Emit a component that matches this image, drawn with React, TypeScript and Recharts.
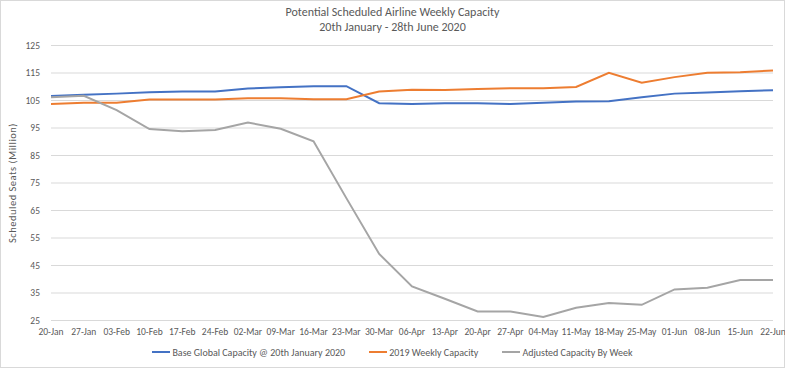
import { LineChart, Line, XAxis, YAxis, CartesianGrid, Legend } from 'recharts';

const weeks = [
  '20-Jan', '27-Jan', '03-Feb', '10-Feb', '17-Feb', '24-Feb', '02-Mar', '09-Mar',
  '16-Mar', '23-Mar', '30-Mar', '06-Apr', '13-Apr', '20-Apr', '27-Apr', '04-May',
  '11-May', '18-May', '25-May', '01-Jun', '08-Jun', '15-Jun', '22-Jun',
];

const baseCapacity = [
  106.6, 107.1, 107.5, 108.0, 108.3, 108.3, 109.4, 109.8, 110.2, 110.2, 104.0, 103.7,
  104.0, 104.0, 103.7, 104.2, 104.6, 104.7, 106.2, 107.5, 107.9, 108.4, 108.7,
];

const capacity2019 = [
  103.7, 104.2, 104.2, 105.4, 105.4, 105.4, 105.8, 105.8, 105.5, 105.5, 108.3, 108.9,
  108.8, 109.2, 109.5, 109.5, 109.9, 115.1, 111.5, 113.5, 115.1, 115.3, 115.9,
];

const adjustedCapacity = [
  106.2, 106.7, 101.5, 94.6, 93.8, 94.3, 97.0, 94.7, 90.2, 69.5, 49.2, 37.4,
  32.9, 28.3, 28.3, 26.3, 29.6, 31.4, 30.7, 36.3, 36.9, 39.7, 39.7,
];

const yTicks = [25, 35, 45, 55, 65, 75, 85, 95, 105, 115, 125];

const SERIES = [
  { key: 'base', name: 'Base Global Capacity @ 20th January 2020', color: '#4472C4' },
  { key: 'y2019', name: '2019 Weekly Capacity', color: '#ED7D31' },
  { key: 'adjusted', name: 'Adjusted Capacity By Week', color: '#A5A5A5' },
];

const FONT = 'Carlito, "Liberation Sans Narrow", "Liberation Sans", Arial, sans-serif';

const data = weeks.map((week, i) => ({
  week,
  base: baseCapacity[i],
  y2019: capacity2019[i],
  adjusted: adjustedCapacity[i],
}));

function LegendRow() {
  return (
    <div
      style={{
        height: 20,
        display: 'flex',
        justifyContent: 'center',
        alignItems: 'center',
        gap: 24,
        fontFamily: FONT,
        fontSize: 10,
        color: '#595959',
      }}
    >
      {SERIES.map((s) => (
        <div key={s.key} style={{ display: 'flex', alignItems: 'center' }}>
          <span style={{ display: 'inline-block', width: 18, height: 2, background: s.color, marginRight: 2 }} />
          <span>{s.name}</span>
        </div>
      ))}
    </div>
  );
}

export default function App() {
  return (
    <div
      style={{
        position: 'absolute',
        left: 0,
        top: 0,
        width: 785,
        height: 368,
        background: '#fff',
        outline: '1px solid #d9d9d9',
        outlineOffset: -1,
        fontFamily: FONT,
      }}
    >
      <div
        style={{
          position: 'absolute',
          top: 5,
          left: 0,
          width: 785,
          textAlign: 'center',
          color: '#595959',
          fontSize: 12,
          lineHeight: '15px',
        }}
      >
        <div>Potential Scheduled Airline Weekly Capacity</div>
        <div>20th January - 28th June 2020</div>
      </div>
      <LineChart
        width={785}
        height={368}
        data={data}
        margin={{ top: 45.5, right: 12, left: 0, bottom: 4 }}
      >
        <CartesianGrid vertical={false} stroke="#d9d9d9" />
        <XAxis
          dataKey="week"
          interval={0}
          height={23.5}
          tickSize={0}
          tickMargin={8}
          axisLine={{ stroke: '#d9d9d9' }}
          tickLine={false}
          tick={{ fontSize: 9.5, fill: '#595959', fontFamily: FONT }}
        />
        <YAxis
          domain={[25, 125]}
          ticks={yTicks}
          width={51}
          tickSize={0}
          tickMargin={11}
          axisLine={false}
          tickLine={false}
          tick={{ fontSize: 9.5, fill: '#595959', fontFamily: FONT }}
          label={{
            value: 'Scheduled Seats (Million)',
            angle: -90,
            position: 'insideLeft',
            offset: 12,
            style: { textAnchor: 'middle', fontSize: 10.5, letterSpacing: 0.5, fill: '#595959', fontFamily: FONT },
          }}
        />
        <Legend
          verticalAlign="bottom"
          wrapperStyle={{ left: 0, width: 785, bottom: 6 }}
          content={() => <LegendRow />}
        />
        {SERIES.map((s) => (
          <Line
            key={s.key}
            type="linear"
            dataKey={s.key}
            name={s.name}
            stroke={s.color}
            strokeWidth={2}
            dot={false}
            activeDot={false}
            isAnimationActive={false}
          />
        ))}
      </LineChart>
    </div>
  );
}
